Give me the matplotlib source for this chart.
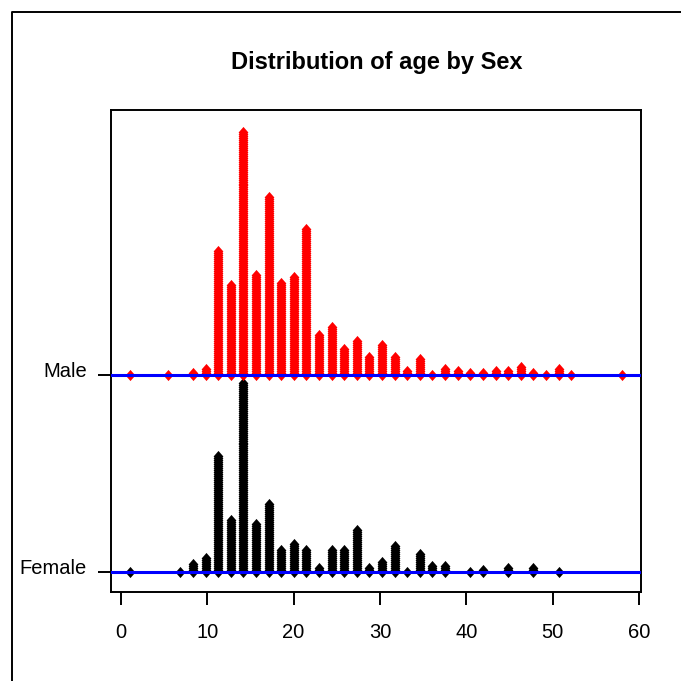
import matplotlib
matplotlib.use("Agg")
import matplotlib.pyplot as plt
from matplotlib.lines import Line2D
from matplotlib.transforms import ScaledTranslation

title = "Distribution of age by Sex"
groups = ["Female", "Male"]
group_colors = ["black", "red"]

# midpoints of the age bins (40 bins)
age_mid = [1.04, 2.50, 3.96, 5.42, 6.88, 8.34, 9.80, 11.26, 12.72, 14.18,
           15.65, 17.11, 18.57, 20.03, 21.49, 22.95, 24.41, 25.87, 27.33, 28.79,
           30.25, 31.71, 33.17, 34.63, 36.09, 37.55, 39.01, 40.47, 41.93, 43.40,
           44.86, 46.32, 47.78, 49.24, 50.70, 52.16, 53.62, 55.08, 56.54, 58.00]

# number of people in each bin
female_n = [1, 0, 0, 0, 1, 5, 8, 59, 27, 96,
            25, 35, 12, 15, 12, 3, 12, 12, 22, 3,
            6, 14, 1, 10, 4, 4, 0, 1, 2, 0,
            3, 0, 3, 0, 1, 0, 0, 0, 0, 0]
male_n = [1, 0, 0, 1, 0, 2, 4, 63, 46, 123,
          51, 90, 47, 50, 74, 21, 25, 14, 18, 10,
          16, 10, 3, 9, 1, 4, 3, 2, 2, 3,
          3, 5, 2, 1, 4, 1, 0, 0, 0, 1]

plt.rcParams['font.family'] = ['Liberation Sans', 'DejaVu Sans']

fig = plt.figure(figsize=(6.81, 6.81), dpi=100)
ax = fig.add_axes([0.163, 0.1314, 0.778, 0.707])

diamond = [(0, 1), (0.88, 0), (0, -1), (-0.88, 0)]
step = 0.0101  # vertical spacing between stacked dots

for pos, (counts, col) in enumerate(zip([female_n, male_n], group_colors), start=1):
    xs, ys = [], []
    for x, n in zip(age_mid, counts):
        for j in range(n):
            xs.append(x)
            ys.append(pos + j * step)
    ax.plot(xs, ys, ls='none', marker=diamond, ms=8.0, mew=0, color=col, zorder=2)
    ax.axhline(pos, color='blue', lw=2.2, zorder=3)

ax.set_xlim(-1.16, 60.23)
ax.set_ylim(0.901, 3.342)
ax.set_xticks(range(0, 61, 10))
ax.set_yticks([1, 2], groups)
ax.tick_params(axis='both', direction='out', length=9.4, width=1.4, labelsize=14.5)
ax.tick_params(axis='x', pad=13)
ax.tick_params(axis='y', pad=8)
for sp in ax.spines.values():
    sp.set_linewidth(1.4)

# group labels sit a bit above their ticks, like in the original
shift = ScaledTranslation(0, 5 / 100, fig.dpi_scale_trans)
for lab in ax.get_yticklabels():
    lab.set_transform(lab.get_transform() + shift)

fig.text(376.5 / 681, 1 - 62 / 681, title, ha='center', va='center',
         fontsize=17, fontweight='bold')

# outer frame (only left and top visible in the crop)
fig.add_artist(Line2D([12 / 681, 12 / 681, 1], [0, 1 - 12 / 681, 1 - 12 / 681],
                      transform=fig.transFigure, color='black', lw=1.4))

fig.savefig("out.png", dpi=100)
